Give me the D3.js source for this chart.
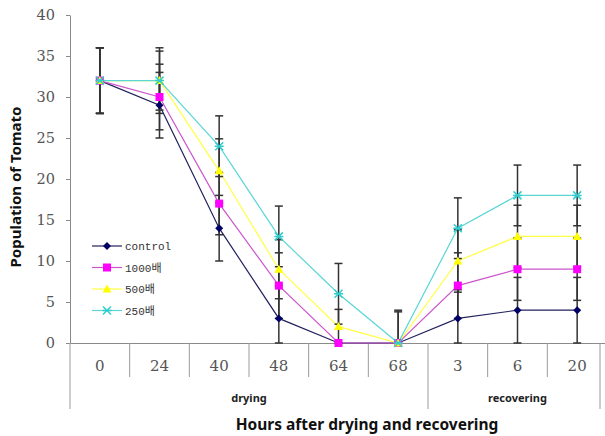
<!DOCTYPE html>
<html>
<head>
<meta charset="utf-8">
<script src="https://cdn.jsdelivr.net/npm/d3@7"></script>
<style>
  body { margin: 0; background: #fff; }
</style>
</head>
<body>
<div id="chart"></div>
<script>
// data
var categories = ["0", "24", "40", "48", "64", "68", "3", "6", "20"];
var yTicks = [0, 5, 10, 15, 20, 25, 30, 35, 40];
var seriesNames = ["control", "1000배", "500배", "250배"];

var controlValues = [32, 29, 14, 3, 0, 0, 3, 4, 4];
var dil1000Values = [32, 30, 17, 7, 0, 0, 7, 9, 9];
var dil500Values  = [32, 32, 21, 9, 2, 0, 10, 13, 13];
var dil250Values  = [32, 32, 24, 13, 6, 0, 14, 18, 18];

var controlErr = [4, 4, 4, 4, 0, 0, 3.5, 4, 4];
var dil1000Err = [4, 4, 3.8, 4, 0, 0, 4, 3.8, 3.8];
var dil500Err  = [4, 3.6, 3.9, 3.6, 2.1, 3.8, 3.8, 3.8, 3.8];
var dil250Err  = [4, 4, 3.7, 3.7, 3.7, 4, 3.7, 3.7, 3.7];

var groups = [
  {name: "drying", from: 0, to: 5},
  {name: "recovering", from: 6, to: 8}
];

var series = [
  {name: seriesNames[0], values: controlValues, err: controlErr, line: "#22225e", fill: "#000066", shape: "diamond"},
  {name: seriesNames[1], values: dil1000Values, err: dil1000Err, line: "#cc55cc", fill: "#ff00ff", shape: "square"},
  {name: seriesNames[2], values: dil500Values,  err: dil500Err,  line: "#ffff44", fill: "#ffff00", shape: "triangle"},
  {name: seriesNames[3], values: dil250Values,  err: dil250Err,  line: "#5ad6d6", fill: "#33cccc", shape: "x"}
];

var width = 605, height = 436;
var plotLeft = 70, plotRight = 607, plotTop = 15, plotBottom = 343;

var svg = d3.select("#chart")
  .append("svg")
    .attr("width", width)
    .attr("height", height);

var x = d3.scaleBand()
  .domain(categories)
  .range([plotLeft, plotRight])
  .padding(0);

var y = d3.scaleLinear()
  .domain([0, 40])
  .range([plotBottom, plotTop]);

var cx = function(i) { return x(categories[i]) + x.bandwidth() / 2; };

// y axis
svg.append("g")
  .attr("transform", "translate(" + plotLeft + ",0)")
  .call(d3.axisLeft(y).tickValues(yTicks).tickSize(4).tickSizeOuter(0).tickPadding(11))
  .call(function(g) {
    g.select(".domain").attr("stroke", "#8a8a8a");
    g.selectAll(".tick line").attr("stroke", "#8a8a8a");
    g.selectAll(".tick text")
      .attr("font-family", "DejaVu Serif, serif")
      .attr("font-size", "14.5px")
      .attr("fill", "#555");
  });

// x axis with labels centred in bands
svg.append("g")
  .attr("transform", "translate(0," + plotBottom + ")")
  .call(d3.axisBottom(x).tickSize(0).tickSizeOuter(0).tickPadding(17))
  .call(function(g) {
    g.select(".domain").attr("stroke", "#8a8a8a");
    g.selectAll(".tick text")
      .attr("font-family", "DejaVu Serif, serif")
      .attr("font-size", "15px")
      .attr("fill", "#555");
  });

// category separators
var seps = d3.range(1, categories.length).filter(function(i) { return i !== 6; });
svg.append("g")
  .selectAll("line")
  .data(seps)
  .enter()
  .append("line")
    .attr("x1", function(i) { return x(categories[i]); })
    .attr("x2", function(i) { return x(categories[i]); })
    .attr("y1", plotBottom)
    .attr("y2", plotBottom + 34)
    .attr("stroke", "#9a9a9a");

// group boundaries (long lines)
var longLines = [x(categories[0]), x(categories[6]), 600];
svg.append("g")
  .selectAll("line")
  .data(longLines)
  .enter()
  .append("line")
    .attr("x1", function(d) { return d; })
    .attr("x2", function(d) { return d; })
    .attr("y1", plotBottom)
    .attr("y2", plotBottom + 66)
    .attr("stroke", "#9a9a9a");

svg.append("g")
  .selectAll("text")
  .data(groups)
  .enter()
  .append("text")
    .attr("x", function(d) { return (x(categories[d.from]) + x(categories[d.to]) + x.bandwidth()) / 2; })
    .attr("y", 402)
    .attr("text-anchor", "middle")
    .attr("font-family", "Noto Sans, sans-serif")
    .attr("font-weight", "bold")
    .attr("font-size", "11px")
    .attr("fill", "#222")
    .text(function(d) { return d.name; });

// axis titles
svg.append("text")
  .attr("x", 367)
  .attr("y", 430)
  .attr("text-anchor", "middle")
  .attr("font-family", "Noto Sans, sans-serif")
  .attr("font-weight", "bold")
  .attr("font-size", "15.5px")
  .attr("fill", "#111")
  .text("Hours after drying and recovering");

svg.append("text")
  .attr("transform", "translate(21,187) rotate(-90)")
  .attr("text-anchor", "middle")
  .attr("font-family", "Noto Sans, sans-serif")
  .attr("font-weight", "bold")
  .attr("font-size", "15px")
  .attr("fill", "#111")
  .text("Population of Tomato");

// lines
var line = d3.line()
  .x(function(d, i) { return cx(i); })
  .y(function(d) { return y(d); });

svg.append("g")
  .selectAll("path")
  .data(series)
  .enter()
  .append("path")
    .attr("fill", "none")
    .attr("stroke", function(s) { return s.line; })
    .attr("stroke-width", 1.2)
    .attr("d", function(s) { return line(s.values); });

// error bars, clipped to the plot range
var bars = [];
series.forEach(function(s) {
  s.values.forEach(function(v, i) {
    if (s.err[i] > 0) bars.push({i: i, lo: Math.max(0, v - s.err[i]), hi: Math.min(40, v + s.err[i]), v: v});
  });
});

var eb = svg.append("g").attr("stroke", "#333").attr("stroke-width", 1.5);
eb.selectAll(".stem")
  .data(bars)
  .enter()
  .append("line")
    .attr("x1", function(d) { return cx(d.i); })
    .attr("x2", function(d) { return cx(d.i); })
    .attr("y1", function(d) { return y(d.lo); })
    .attr("y2", function(d) { return y(d.hi); });

var caps = [];
bars.forEach(function(d) {
  caps.push({i: d.i, val: d.hi});
  if (d.v - d.lo > 0.01 && d.lo > 0) caps.push({i: d.i, val: d.lo});
  else if (d.lo === 0 && d.v > 0) caps.push({i: d.i, val: 0});
});
eb.selectAll(".cap")
  .data(caps)
  .enter()
  .append("line")
    .attr("x1", function(d) { return cx(d.i) - 4; })
    .attr("x2", function(d) { return cx(d.i) + 4; })
    .attr("y1", function(d) { return y(d.val); })
    .attr("y2", function(d) { return y(d.val); });

// markers
function drawMarker(g, shape, fill, px, py) {
  if (shape === "diamond") {
    g.append("path")
      .attr("d", "M" + px + "," + (py - 4) + "L" + (px + 4) + "," + py + "L" + px + "," + (py + 4) + "L" + (px - 4) + "," + py + "Z")
      .attr("fill", fill);
  } else if (shape === "square") {
    g.append("rect")
      .attr("x", px - 4).attr("y", py - 4)
      .attr("width", 8).attr("height", 8)
      .attr("fill", fill);
  } else if (shape === "triangle") {
    g.append("path")
      .attr("d", "M" + px + "," + (py - 4.5) + "L" + (px + 4.5) + "," + (py + 3.5) + "L" + (px - 4.5) + "," + (py + 3.5) + "Z")
      .attr("fill", fill);
  } else {
    g.append("path")
      .attr("d", "M" + (px - 4) + "," + (py - 4) + "L" + (px + 4) + "," + (py + 4) + "M" + (px + 4) + "," + (py - 4) + "L" + (px - 4) + "," + (py + 4) + "M" + (px - 4.5) + "," + py + "L" + (px + 4.5) + "," + py)
      .attr("stroke", fill)
      .attr("stroke-width", 1.5)
      .attr("fill", "none");
  }
}

series.forEach(function(s) {
  var g = svg.append("g");
  s.values.forEach(function(v, i) {
    drawMarker(g, s.shape, s.fill, cx(i), y(v));
  });
});

// legend
var legend = svg.append("g");
series.forEach(function(s, k) {
  var ly = 246 + k * 21.5;
  legend.append("line")
    .attr("x1", 92).attr("x2", 122)
    .attr("y1", ly).attr("y2", ly)
    .attr("stroke", s.line)
    .attr("stroke-width", 1.2);
  drawMarker(legend, s.shape, s.fill, 107, ly);
  legend.append("text")
    .attr("x", 125)
    .attr("y", ly + 4)
    .attr("font-family", "Liberation Mono, Noto Sans CJK KR, monospace")
    .attr("font-size", "11px")
    .attr("fill", "#333")
    .text(s.name);
});
</script>
</body>
</html>
